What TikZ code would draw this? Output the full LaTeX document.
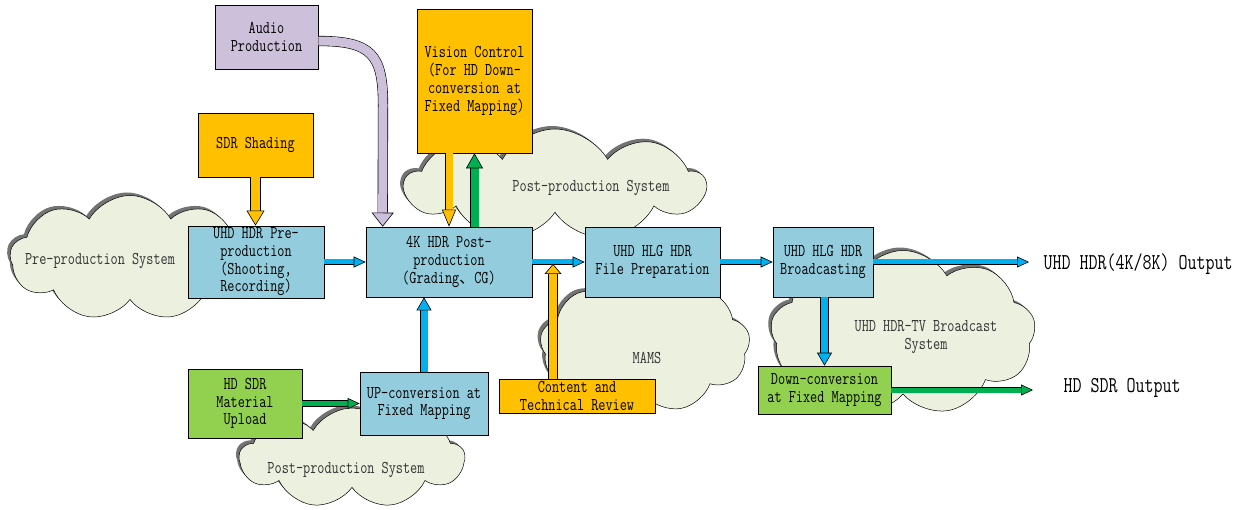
\documentclass[tikz,border=0pt]{standalone}
\usepackage{fontspec}
\usepackage{tikz}
\usetikzlibrary{shapes.symbols, arrows.meta, positioning, calc, shadows}
\newfontfamily\boxfont[FakeStretch=0.77]{Latin Modern Mono}
\newfontfamily\cjkfont{Noto Sans CJK SC}
\definecolor{stageblue}{RGB}{147,205,221}
\definecolor{ctrlorange}{RGB}{255,192,0}
\definecolor{sdrgreen}{RGB}{146,208,80}
\definecolor{audiolav}{RGB}{204,192,218}
\definecolor{cloudfill}{RGB}{235,241,222}
\definecolor{flowblue}{RGB}{0,176,240}
\definecolor{flowgreen}{RGB}{0,176,80}

\begin{document}
\begin{tikzpicture}[
    x=1pt, y=-1pt,
    every node/.style={align=center, font=\boxfont\fontsize{18}{17.7}\selectfont},
    block/.style={rectangle, draw=black, line width=0.7pt, inner sep=2pt},
    stage/.style={block, fill=stageblue},
    ctrl/.style={block, fill=ctrlorange},
    sdrbox/.style={block, fill=sdrgreen},
    audiobox/.style={block, fill=audiolav},
    syscloud/.style={cloud, cloud puffs=9, cloud puff arc=120, cloud ignores aspect, draw=black, line width=0.5pt, fill=cloudfill,
        drop shadow={shadow xshift=-3pt, shadow yshift=3pt, fill=black!55, opacity=1}},
    sysname/.style={text=black!80},
    outtxt/.style={anchor=west, font=\boxfont\fontsize{22.7}{24}\selectfont},
    fat/.style n args={4}{line width=#2, draw=#1,
        -{Triangle[length=#4, width=#3, fill=#1, color=black, line width=0.6pt]},
        preaction={draw=black, line width=#2+1.2pt, -, shorten >=#4}}
]
\useasboundingbox (0,0) rectangle (1246,510);

% System clouds
\node[syscloud, minimum width=240pt, minimum height=125pt] (precloud) at (130,258) {};
\node[syscloud, minimum width=300pt, minimum height=112pt] (postcloud) at (555,185) {};
\node[syscloud, minimum width=210pt, minimum height=135pt] (mamscloud) at (645,345) {};
\node[syscloud, minimum width=265pt, minimum height=165pt] (tvcloud) at (903,333) {};
\node[syscloud, minimum width=225pt, minimum height=100pt] (upcloud) at (352,458) {};

\node[sysname] (prename) at (100,261) {Pre-production System};
\node[sysname] (postname) at (591,188) {Post-production System};
\node[sysname] (mamsname) at (647,358) {MAMS};
\node[sysname] (tvname) at (926,337) {UHD HDR-TV Broadcast\\System};
\node[sysname] (upname) at (346,470) {Post-production System};

% Sources and controls
\node[audiobox, minimum width=103pt, minimum height=64pt] (audio) at (266.5,37) {Audio\\Production};
\node[ctrl, minimum width=115pt, minimum height=144pt] (vision) at (474.5,81) {Vision Control\\(For HD Down-\\conversion at\\Fixed Mapping)};
\node[ctrl, minimum width=115pt, minimum height=64pt] (shading) at (255.5,145) {SDR Shading};

% Main chain
\node[stage, minimum width=136pt, minimum height=70pt] (pre) at (256,262) {UHD HDR Pre-\\production\\(Shooting,\\Recording)};
\node[stage, minimum width=166pt, minimum height=70pt] (post) at (449,262) {4K HDR Post-\\production\\(Grading{\cjkfont\fontsize{15}{17}\selectfont 、}CG)};
\node[stage, minimum width=135pt, minimum height=70pt] (file) at (652.5,262) {UHD HLG HDR\\File Preparation};
\node[stage, minimum width=100pt, minimum height=70pt] (bcast) at (823,262) {UHD HLG HDR\\Broadcasting};

% Lower row
\node[sdrbox, minimum width=114pt, minimum height=69pt] (upload) at (245,403.5) {HD SDR\\Material\\Upload};
\node[stage, minimum width=128pt, minimum height=63pt] (upconv) at (424,403.5) {UP-conversion at\\Fixed Mapping};
\node[ctrl, minimum width=156pt, minimum height=34pt] (review) at (577,396) {Content and\\Technical Review};
\node[sdrbox, minimum width=133pt, minimum height=48pt] (downconv) at (824.5,390) {Down-conversion\\at Fixed Mapping};

% Outputs
\node[outtxt] (uhdout) at (1040,264) {UHD HDR(4K/8K) Output};
\node[outtxt] (hdout) at (1060,388) {HD SDR Output};

\coordinate (review in) at (553,264);

% Connections
\draw[fat={audiolav}{9pt}{22pt}{14pt}] ([yshift=-4pt]audio.east) .. controls (372,41) and (383,55) .. (383,105) -- ([xshift=17pt]post.north west);
\draw[fat={ctrlorange}{9pt}{18pt}{15pt}] (shading.south) -- (shading.south |- pre.north);
\draw[fat={ctrlorange}{7pt}{14pt}{17pt}] (vision.south -| post.north) -- (post.north);
\draw[fat={flowgreen}{8pt}{17pt}{15pt}] (post.north -| vision.south) -- (vision.south);
\draw[fat={flowblue}{5pt}{11pt}{12pt}] (pre) -- (post);
\draw[fat={flowblue}{5pt}{11pt}{12pt}] (post) -- (file);
\draw[fat={flowblue}{5pt}{11pt}{12pt}] (file) -- (bcast);
\draw[fat={flowblue}{5pt}{11pt}{12pt}] (bcast) -- ([xshift=-11pt]uhdout.west |- bcast.east);
\draw[fat={ctrlorange}{8pt}{17pt}{10pt}] (review.north -| review in) -- (review in);
\draw[fat={flowblue}{7pt}{15pt}{13pt}] (upconv.north) -- (upconv.north |- post.south);
\draw[fat={flowgreen}{5pt}{11pt}{12pt}] (upload.east |- upconv.west) -- (upconv.west);
\draw[fat={flowblue}{7pt}{15pt}{13pt}] (bcast.south -| downconv.north) -- (downconv.north);
\draw[fat={flowgreen}{5pt}{11pt}{12pt}] (downconv) -- ([xshift=-27pt]hdout.west |- downconv.east);

\end{tikzpicture}
\end{document}
